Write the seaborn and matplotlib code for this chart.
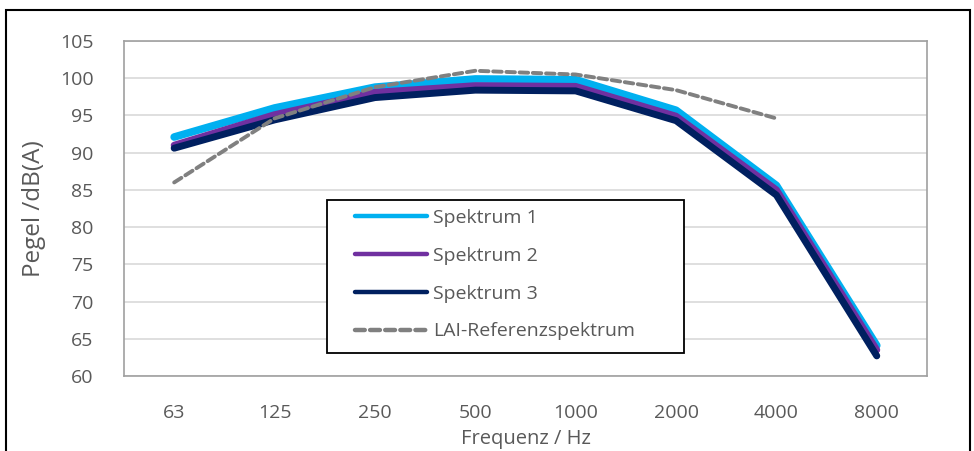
import numpy as np
import pandas as pd
import matplotlib
matplotlib.use("Agg")
import matplotlib.pyplot as plt
import seaborn as sns

# Oktavband-Mittenfrequenzen und Pegel
bands = ["63", "125", "250", "500", "1000", "2000", "4000", "8000"]
spektrum_1 = [92.1, 96.0, 98.8, 99.9, 99.8, 95.7, 85.6, 64.1]
spektrum_2 = [91.0, 95.1, 98.1, 99.0, 98.9, 94.9, 85.0, 63.5]
spektrum_3 = [90.6, 94.4, 97.4, 98.4, 98.3, 94.3, 84.3, 62.7]
lai_ref = [86.0, 94.6, 98.8, 101.0, 100.5, 98.4, 94.6]

sns.set_theme(style="white")
plt.rcParams["font.family"] = ["Open Sans", "DejaVu Sans"]

txt = "#595959"
fig = plt.figure(figsize=(9.74, 4.51), dpi=100)
ax = fig.add_axes([0.1273, 0.1663, 0.8244, 0.7428])

pos = np.arange(len(bands))
series = [
    ("Spektrum 1", spektrum_1, "#00B0F0", 5.5),
    ("Spektrum 2", spektrum_2, "#7030A0", 5.0),
    ("Spektrum 3", spektrum_3, "#002060", 5.0),
]
for name, vals, col, lw in series:
    sns.lineplot(x=pos, y=vals, ax=ax, color=col, linewidth=lw, label=name,
                 solid_capstyle="round", solid_joinstyle="round")
sns.lineplot(x=pos[:len(lai_ref)], y=lai_ref, ax=ax, color="#808080", linewidth=2.8,
             label="LAI-Referenzspektrum", linestyle=(0, (2.2, 1.2)),
             dash_capstyle="round")

ax.set_xlim(-0.5, len(bands) - 0.5)
ax.set_ylim(60, 105)
ax.set_yticks(np.arange(60, 106, 5))
ax.set_xticks(pos)
ax.set_xticklabels(bands)
ax.grid(axis="y", color="#d9d9d9", linewidth=1.2)
ax.set_axisbelow(True)
for s in ax.spines.values():
    s.set_color("#a0a0a0")
    s.set_linewidth(1.2)
ax.tick_params(axis="y", length=0, pad=22, labelsize=14, labelcolor=txt)
ax.tick_params(axis="x", length=0, pad=20, labelsize=14, labelcolor=txt)
ax.set_ylabel("Pegel /dB(A)", fontsize=17.5, color=txt, labelpad=10)
ax.set_xlabel("Frequenz / Hz", fontsize=14.5, color=txt, labelpad=5)

leg = ax.legend(loc="upper left", bbox_to_anchor=(355 / 974, 1 - 209 / 451),
                bbox_transform=fig.transFigure, frameon=False,
                fontsize=14, handlelength=3.7, handletextpad=0.3,
                labelspacing=1.02, borderpad=0, borderaxespad=0)
leg.set_zorder(6)
for t in leg.get_texts():
    t.set_color(txt)
for h in leg.get_lines():
    h.set_linewidth(3.2)

# Legendenrahmen (breiter als der Text, wie im Original)
ax.add_patch(plt.Rectangle((327 / 974, 1 - 353 / 451), 357 / 974, 153 / 451,
                           transform=fig.transFigure, facecolor="white",
                           edgecolor="black", linewidth=1.3, zorder=5,
                           clip_on=False))

# Rahmen um die ganze Grafik
fig.patches.append(plt.Rectangle((6 / 974, -0.01), 964 / 974, 1 - 10 / 451 + 0.01,
                                 transform=fig.transFigure, fill=False,
                                 edgecolor="black", linewidth=1.5))

fig.savefig("out.png", dpi=100)
